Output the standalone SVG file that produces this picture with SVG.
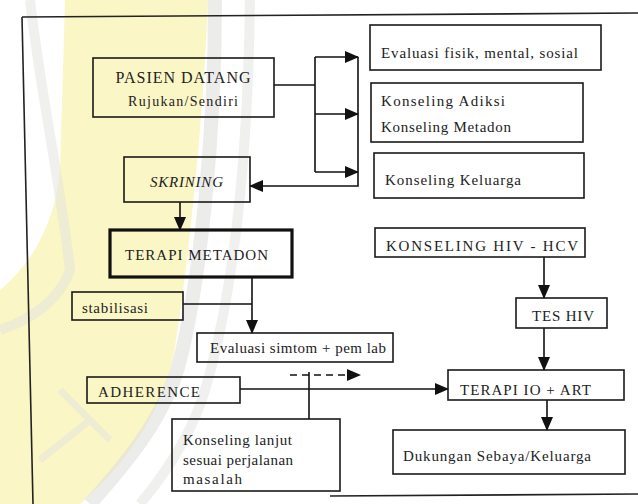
<svg xmlns="http://www.w3.org/2000/svg" width="638" height="504" viewBox="0 0 638 504">
<defs>
<marker id="ah" markerUnits="userSpaceOnUse" markerWidth="14" markerHeight="12" refX="13" refY="6" orient="auto">
<path d="M0,0 L14,6 L0,12 Z" fill="#111"/>
</marker>
<style>
.bx{fill:none;stroke:#1a1a1a;stroke-width:1.6}
.thick{fill:none;stroke:#111;stroke-width:3.2}
.t{font-family:"Liberation Serif","Times New Roman",serif;fill:#222;font-size:15px}
.c{stroke:#111;stroke-width:1.6;fill:none}
.fr{stroke:#222;stroke-width:1.6;fill:none}
</style>
</defs>
<rect width="638" height="504" fill="#ffffff"/>
<g id="watermark">
<path d="M65,0 L208,0 C204,110 190,250 176,340 C168,410 120,470 80,504 L0,504 L0,290 C25,270 55,230 60,170 Z" fill="#fbf6c6"/>
<path d="M215,0 C215,140 200,280 180,360 C165,420 120,470 90,504" stroke="#e0e0dc" stroke-width="14" fill="none" opacity="0.6"/>
<path d="M250,0 C248,150 235,290 205,390 C190,440 160,480 140,504" stroke="#e2e2de" stroke-width="10" fill="none" opacity="0.5"/>
<path d="M30,0 C40,90 60,180 70,270 C60,300 30,320 0,330" stroke="#e2e2de" stroke-width="10" fill="none" opacity="0.5"/>
<path d="M60,390 L110,440 M40,460 L90,420" stroke="#e2e2de" stroke-width="7" fill="none" opacity="0.5"/>
</g>
<g id="frame">
<path class="fr" d="M22,17 L638,13"/>
<path class="fr" d="M22,17 L33,504"/>
<path class="fr" d="M330,496 L638,494"/>
</g>
<g id="connectors">
<path class="c" d="M274,85 L315,85"/>
<path class="c" d="M315,57 L315,172"/>
<path class="c" d="M315,57 L358,57" marker-end="url(#ah)"/>
<path class="c" d="M315,114 L358,114" marker-end="url(#ah)"/>
<path class="c" d="M315,172 L358,172" marker-end="url(#ah)"/>
<path class="c" d="M358,57 L358,186 L250,186" marker-end="url(#ah)"/>
<path class="c" d="M180,202 L180,230" marker-end="url(#ah)"/>
<path class="c" d="M252,277 L252,333" marker-end="url(#ah)"/>
<path class="c" d="M183,304 L252,304"/>
<path class="c" d="M290,375 L360,375" stroke-dasharray="7,5" marker-end="url(#ah)"/>
<path class="c" d="M240,389 L448,389" marker-end="url(#ah)"/>
<path class="c" d="M309,372 L309,419"/>
<path class="c" d="M544,257 L544,298" marker-end="url(#ah)"/>
<path class="c" d="M544,328 L544,370" marker-end="url(#ah)"/>
<path class="c" d="M547,400 L547,430" marker-end="url(#ah)"/>
</g>
<g id="pasien">
<rect class="bx" x="93" y="58" width="181" height="59"/>
<text class="t" x="183" y="83" text-anchor="middle" style="font-size:16px" textLength="135">PASIEN DATANG</text>
<text class="t" x="183" y="106" text-anchor="middle" style="font-size:14px" textLength="110">Rujukan/Sendiri</text>
</g>
<g id="evaluasi-fisik">
<rect class="bx" x="370" y="25" width="231" height="45"/>
<text class="t" x="381" y="58" textLength="197">Evaluasi fisik, mental, sosial</text>
</g>
<g id="konseling-adiksi">
<rect class="bx" x="371" y="83" width="212" height="59"/>
<text class="t" x="381" y="106" textLength="124">Konseling Adiksi</text>
<text class="t" x="381" y="132" textLength="130">Konseling Metadon</text>
</g>
<g id="konseling-keluarga">
<rect class="bx" x="374" y="153" width="210" height="45"/>
<text class="t" x="385" y="185" textLength="136">Konseling Keluarga</text>
</g>
<g id="skrining">
<rect class="bx" x="124" y="157" width="126" height="45"/>
<text class="t" x="150" y="187" style="font-style:italic" textLength="73">SKRINING</text>
</g>
<g id="terapi-metadon">
<rect class="thick" x="110" y="230" width="182" height="47"/>
<text class="t" x="125" y="260" textLength="143">TERAPI METADON</text>
</g>
<g id="stabilisasi">
<rect class="bx" x="72" y="292" width="111" height="28"/>
<text class="t" x="82" y="313" textLength="66">stabilisasi</text>
</g>
<g id="evaluasi-simtom">
<rect class="bx" x="197" y="333" width="196" height="29"/>
<text class="t" x="210" y="353" textLength="176">Evaluasi simtom + pem lab</text>
</g>
<g id="adherence">
<rect class="bx" x="87" y="377" width="153" height="26"/>
<text class="t" x="98" y="397" textLength="102">ADHERENCE</text>
</g>
<g id="konseling-lanjut">
<rect class="bx" x="172" y="419" width="168" height="72"/>
<text class="t" x="183" y="445" textLength="109">Konseling lanjut</text>
<text class="t" x="183" y="465" textLength="110">sesuai perjalanan</text>
<text class="t" x="183" y="484" textLength="59">masalah</text>
</g>
<g id="konseling-hiv">
<rect class="bx" x="375" y="228" width="210" height="29"/>
<text class="t" x="386" y="251" textLength="192">KONSELING HIV - HCV</text>
</g>
<g id="tes-hiv">
<rect class="bx" x="516" y="298" width="91" height="30"/>
<text class="t" x="532" y="321" textLength="62">TES HIV</text>
</g>
<g id="terapi-io">
<rect class="bx" x="448" y="370" width="176" height="30"/>
<text class="t" x="460" y="395" textLength="131">TERAPI IO + ART</text>
</g>
<g id="dukungan">
<rect class="bx" x="393" y="430" width="232" height="44"/>
<text class="t" x="403" y="461" textLength="188">Dukungan Sebaya/Keluarga</text>
</g>
</svg>
